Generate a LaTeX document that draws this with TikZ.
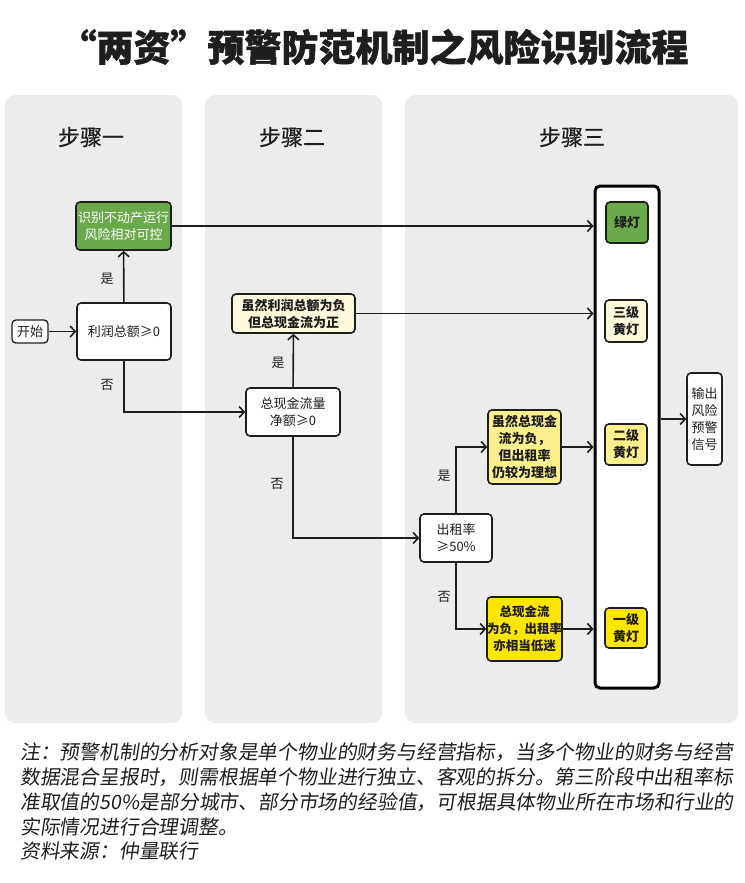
\documentclass[tikz,border=0pt]{standalone}
\usepackage{fontspec}
\setmainfont{Noto Sans CJK SC}
\newfontfamily\notefont[FakeSlant=0.15]{Noto Sans CJK SC}
\newfontfamily\titlefont[BoldFeatures={FakeBold=1.2}]{Noto Sans CJK SC}
\newfontfamily\stepfont[FakeBold=0.6]{Noto Sans CJK SC}
\usetikzlibrary{arrows.meta}
\definecolor{panelgray}{HTML}{ECECEC}
\definecolor{lgreen}{HTML}{6BAA4B}
\definecolor{cream}{HTML}{FFF9DC}
\definecolor{myellow}{HTML}{FDF08C}
\definecolor{byellow}{HTML}{FFE600}
\definecolor{ink}{HTML}{1E1E1E}
\tikzset{
  panel/.style={fill=panelgray, draw=none, rounded corners=10pt},
  box/.style={draw=ink, line width=1.6pt, rounded corners=4pt, fill=white, inner sep=0pt, align=center, text=ink,
    font=\fontsize{13}{17}\selectfont},
  bbox/.style={box, font=\fontsize{13}{17}\selectfont\bfseries},
  lbl/.style={text=ink, font=\fontsize{13}{16}\selectfont, inner sep=0pt},
  steplbl/.style={text=ink, font=\stepfont\fontsize{22}{26}\selectfont, inner sep=0pt},
  arr/.style={draw=ink, line width=1.6pt, -{Straight Barb[length=5pt,width=11pt,line width=1.6pt]}},
  note/.style={anchor=west, inner sep=0pt, text=ink, font=\notefont\fontsize{19.8}{22}\selectfont}
}
\begin{document}
\begin{tikzpicture}[x=1pt,y=-1pt]
\useasboundingbox (0,0) rectangle (744,883);
\fill[white] (0,0) rectangle (744,883);
% title
\node[inner sep=0pt, text=ink, font=\titlefont\fontsize{37}{42}\selectfont\bfseries] (title) at (374,47) {“两资”预警防范机制之风险识别流程};
% panels
\fill[panel] (5,95) rectangle (182,723);
\fill[panel] (205,95) rectangle (382,723);
\fill[panel] (405,95) rectangle (738,723);
\node[steplbl] (s1) at (91,137) {步骤一};
\node[steplbl] (s2) at (292,137) {步骤二};
\node[steplbl] (s3) at (572,137) {步骤三};
% tall box
\node[draw=black, line width=3pt, rounded corners=5pt, fill=white, minimum width=64pt, minimum height=502pt, inner sep=0pt] (tall) at (627,437) {};
% nodes
\node[box, fill=lgreen, text=white, minimum width=95pt, minimum height=48pt] (ok) at (123.5,226) {识别不动产运行\\风险相对可控};
\node[box, line width=1.3pt, minimum width=36pt, minimum height=23pt] (start) at (30,331.5) {开始};
\node[box, minimum width=94pt, minimum height=57pt] (profit) at (124,331.5) {利润总额≥0};
\node[box, minimum width=94pt, minimum height=48pt] (cf) at (293,412) {总现金流量\\净额≥0};
\node[bbox, fill=cream, minimum width=123pt, minimum height=39pt] (neg1) at (293.5,313.5) {虽然利润总额为负\\但总现金流为正};
\node[box, minimum width=72pt, minimum height=48pt] (rent) at (456,538) {出租率\\≥50\%};
\node[bbox, fill=myellow, minimum width=73pt, minimum height=74pt] (y2) at (524.5,447) {虽然总现金\\流为负，\\但出租率\\仍较为理想};
\node[bbox, fill=byellow, minimum width=73pt, minimum height=64pt, font=\fontsize{12.5}{17}\selectfont\bfseries] (y1) at (524.5,629) {总现金流\\为负，出租率\\亦相当低迷};
\node[bbox, fill=lgreen, minimum width=42pt, minimum height=41pt] (gl) at (627,222.5) {绿灯};
\node[bbox, fill=cream, minimum width=42pt, minimum height=42pt] (l3) at (626,321) {三级\\黄灯};
\node[bbox, fill=myellow, minimum width=42pt, minimum height=41pt] (l2) at (626,444.5) {二级\\黄灯};
\node[bbox, fill=byellow, minimum width=42pt, minimum height=40pt] (l1) at (626,628) {一级\\黄灯};
\node[box, minimum width=35pt, minimum height=92pt] (out) at (704.5,419) {输出\\风险\\预警\\信号};
% connectors
\draw[arr] (start) -- (profit);
\draw[arr] (profit) -- (ok);
\draw[arr] (profit.south) |- (cf.west);
\draw[arr] (cf) -- (neg1);
\draw[arr] (cf.south) |- (rent.west);
\draw[arr] (rent.north) |- (y2.west);
\draw[arr] (rent.south) |- (y1.west);
\draw[arr] (ok.east) -- (ok.east -| tall.west);
\draw[arr] (neg1.east) -- (neg1.east -| tall.west);
\draw[arr] (y2.east) -- (y2.east -| tall.west);
\draw[arr] (y1.east) -- (y1.east -| tall.west);
\coordinate (tallout) at (tall.east |- out.west);
\draw[arr] (tallout) -- (out.west);
% yes/no labels
\node[lbl] (l-yes1) at (107,279) {是};
\node[lbl] (l-no1) at (107,385) {否};
\node[lbl] (l-yes2) at (278,363) {是};
\node[lbl] (l-no2) at (277,484) {否};
\node[lbl] (l-yes3) at (444,476) {是};
\node[lbl] (l-no3) at (444,597) {否};
% footnote
\node[note] (n1) at (20,752) {注：预警机制的分析对象是单个物业的财务与经营指标，当多个物业的财务与经营};
\node[note] (n2) at (20,777) {数据混合呈报时，则需根据单个物业进行独立、客观的拆分。第三阶段中出租率标};
\node[note] (n3) at (20,802) {准取值的50\%是部分城市、部分市场的经验值，可根据具体物业所在市场和行业的};
\node[note] (n4) at (20,827) {实际情况进行合理调整。};
\node[note] (n5) at (20,851) {资料来源：仲量联行};
\end{tikzpicture}
\end{document}
